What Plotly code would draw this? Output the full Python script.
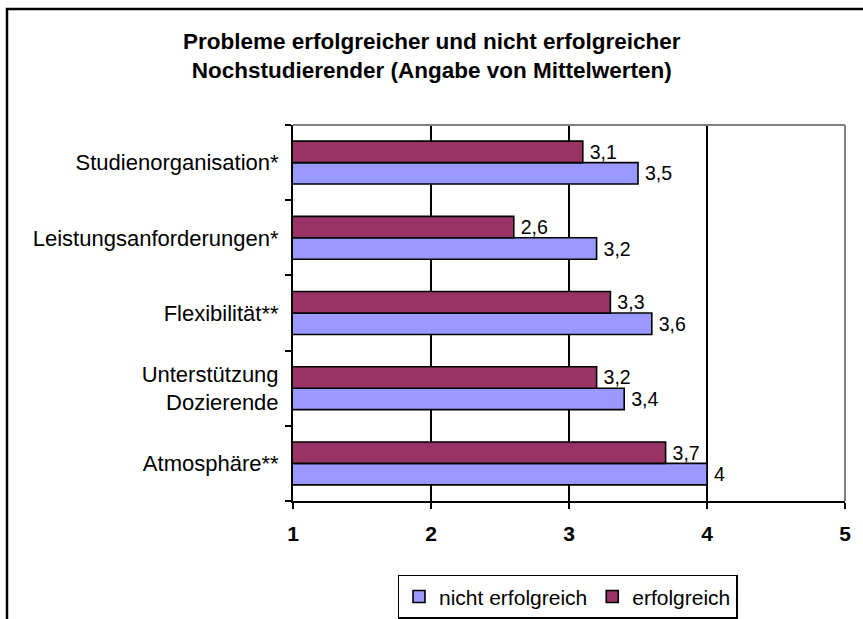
import plotly.graph_objects as go

categories = ["Studienorganisation*", "Leistungsanforderungen*", "Flexibilität**",
              "Unterstützung<br>Dozierende", "Atmosphäre**"]
nicht_erfolgreich = [3.5, 3.2, 3.6, 3.4, 4]
erfolgreich = [3.1, 2.6, 3.3, 3.2, 3.7]
x_ticks = [1, 2, 3, 4, 5]

FONT = "Liberation Sans, Arial, sans-serif"
L, R, T, B = 293, 18, 125, 118
W, H = 863, 619
PW, PH = W - L - R, H - T - B

fig = go.Figure()
fig.add_trace(go.Bar(
    y=categories, x=nicht_erfolgreich, orientation="h", name="nicht erfolgreich",
    marker=dict(color="#9999FF", line=dict(color="black", width=1.6)),
    texttemplate="\u2009%{x}", textposition="outside",
    textfont=dict(family=FONT, size=21, color="black"), cliponaxis=False,
))
fig.add_trace(go.Bar(
    y=categories, x=erfolgreich, orientation="h", name="erfolgreich",
    marker=dict(color="#993366", line=dict(color="black", width=1.6)),
    texttemplate="\u2009%{x}", textposition="outside",
    textfont=dict(family=FONT, size=21, color="black"), cliponaxis=False,
))

fig.update_layout(
    width=W, height=H,
    margin=dict(l=L, r=R, t=T, b=B, autoexpand=False),
    paper_bgcolor="white", plot_bgcolor="white",
    separators=",.",
    font=dict(family=FONT, size=21, color="black"),
    barmode="group", bargap=0.43, bargroupgap=0,
    xaxis=dict(
        range=[1, 5], tickvals=x_ticks, ticktext=[str(t) for t in x_ticks],
        showgrid=True, gridcolor="black", gridwidth=2,
        showline=True, linecolor="black", linewidth=2,
        ticks="outside", ticklen=6, tickwidth=2, tickcolor="black",
        tickfont=dict(family=FONT, size=21, color="black", weight="bold"),
        ticklabelstandoff=7, zeroline=False, fixedrange=True, automargin=False,
    ),
    yaxis=dict(
        categoryorder="array", categoryarray=list(reversed(categories)),
        showline=True, linecolor="black", linewidth=2,
        ticks="outside", ticklen=6, tickwidth=2, tickcolor="black",
        tickson="boundaries", showgrid=False,
        tickfont=dict(family=FONT, size=22, color="black"),
        ticklabelstandoff=8, fixedrange=True, automargin=False,
    ),
    legend=dict(
        orientation="h", x=(567.5 - L) / PW, xanchor="center", y=-0.255, yanchor="middle",
        bordercolor="black", borderwidth=1.5, bgcolor="white",
        font=dict(family=FONT, size=21, color="black"),
        traceorder="normal", itemwidth=30,
    ),
    showlegend=True,
    annotations=[dict(
        text="<b>Probleme erfolgreicher und nicht erfolgreicher<br>Nochstudierender (Angabe von Mittelwerten)</b>",
        xref="paper", yref="paper",
        x=(W / 2 - L) / PW, y=(PH + T - 27) / PH,
        xanchor="center", yanchor="top", showarrow=False,
        font=dict(family=FONT, size=22.5, color="black"),
    )],
    shapes=[
        # gray top and right plot border
        dict(type="line", xref="paper", yref="paper", x0=0, x1=1, y0=1, y1=1,
             line=dict(color="#808080", width=2), layer="above"),
        dict(type="line", xref="paper", yref="paper", x0=1, x1=1, y0=0, y1=1,
             line=dict(color="#808080", width=2), layer="above"),
        # outer chart frame
        dict(type="rect", xref="paper", yref="paper",
             x0=(7 - L) / PW, x1=1.2, y0=-0.5, y1=(PH + T - 9) / PH,
             line=dict(color="black", width=2.5), fillcolor="rgba(0,0,0,0)",
             layer="below"),
    ],
)

fig.write_html(
    "out.html",
    config={"displayModeBar": False},
    post_script="document.body.style.margin='0';document.body.style.overflow='hidden';",
)
